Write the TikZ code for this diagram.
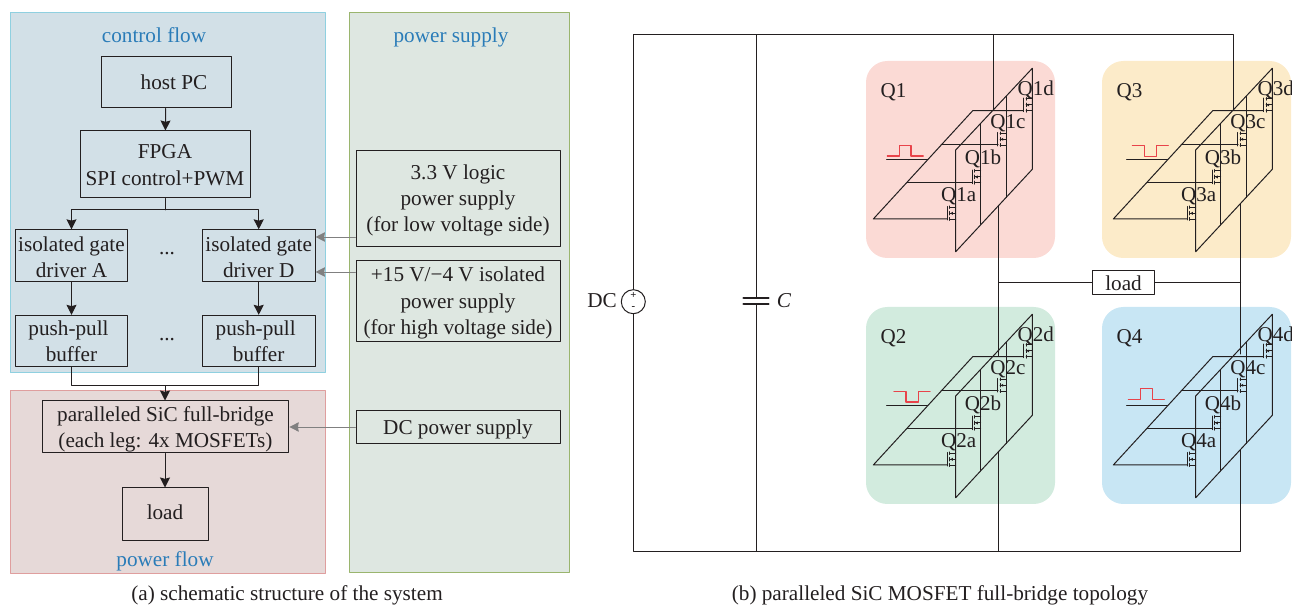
\documentclass[tikz,border=0pt]{standalone}
\usepackage{fontspec}
\setmainfont{Liberation Serif}
\usetikzlibrary{arrows.meta,positioning}
\definecolor{ctrlfill}{HTML}{D2E0E7}
\definecolor{ctrlline}{HTML}{8FD0E0}
\definecolor{flowfill}{HTML}{E6D9D8}
\definecolor{flowline}{HTML}{DF9E9E}
\definecolor{supfill}{HTML}{DEE7E1}
\definecolor{supline}{HTML}{9AB56E}
\definecolor{qone}{HTML}{FBDAD5}
\definecolor{qthree}{HTML}{FCEBC9}
\definecolor{qtwo}{HTML}{D2EBDE}
\definecolor{qfour}{HTML}{C8E6F4}
\definecolor{titleblue}{HTML}{2A7CB8}
\definecolor{pulsered}{HTML}{E8434A}
\definecolor{wireblack}{HTML}{231F20}
\newcommand{\linedrop}[1]{\rule{0pt}{#1}}
\tikzset{
  every picture/.style={line cap=round,line join=round},
  txt/.style={inner sep=0pt,text=wireblack,font=\fontsize{15.9}{19.6}\selectfont,align=center},
  qtext/.style={txt,font=\fontsize{15.8}{18}\selectfont},
  titletxt/.style={txt,text=titleblue},
  blockbox/.style={draw=wireblack,line width=0.75pt,inner sep=0pt,align=center,text=wireblack,
    font=\fontsize{15.9}{19.6}\selectfont},
  wire/.style={draw=wireblack,line width=0.75pt},
  flow/.style={wire,-{Stealth[length=7.5pt,width=7.5pt,inset=1pt]}},
  supplyflow/.style={draw=black!50,line width=0.7pt,-{Stealth[length=7pt,width=7pt,inset=0.5pt]}},
  pulse/.style={draw=pulsered,line width=0.85pt},
  pics/sicfet/.style={code={
    \draw[wire] (0,1) -- (0,-12.5);
    \draw[wire] (2.5,-13)--(2.5,-10.5) (2.5,-7.5)--(2.5,-4) (2.5,-1.5)--(2.5,1.5);
    \draw[wire] (2.5,-11.7)--(8.4,-11.7) (2.5,0.3)--(8.4,0.3) (8.4,-5.7)--(2.5,-5.7);
    \fill[wireblack] (3,-5.7)--(5.5,-7.2)--(5.5,-4.2)--cycle;
  }}
}
\begin{document}
\begin{tikzpicture}[x=0.75pt,y=-0.75pt]
  \useasboundingbox (0,0) rectangle (1292,605);
  % panels
  \draw[draw=ctrlline,fill=ctrlfill,line width=0.75pt] (10,13) rectangle (325,373);
  \draw[draw=flowline,fill=flowfill,line width=0.75pt] (10,391) rectangle (325,573);
  \draw[draw=supline,fill=supfill,line width=0.75pt] (349,13) rectangle (569,572);
  \node[titletxt] (ctrltitle) at (154,35.5) {control flow};
  \node[titletxt] (suptitle) at (451,37) {power supply};
  \node[titletxt] (flowtitle) at (165,561.5) {power flow};
  % blocks on the left
  \node[blockbox,minimum width=97.5pt,minimum height=38.25pt] (host) at (166,82.5) {\hspace*{12pt}host PC};
  \node[blockbox,minimum width=127.5pt,minimum height=50.25pt] (fpga) at (165,164.5) {\linedrop{11.5pt}FPGA\\SPI control+PWM};
  \node[blockbox,minimum width=84.5pt,minimum height=38.5pt] (drva) at (71.5,255.5) {\linedrop{14pt}isolated gate\\driver A};
  \node[blockbox,minimum width=84.5pt,minimum height=38.5pt] (drvd) at (258.7,255.5) {\linedrop{14pt}isolated gate\\driver D};
  \node[blockbox,minimum width=84.5pt,minimum height=38.5pt] (bufa) at (71.5,341) {push-pull\hspace*{4.5pt}\\buffer};
  \node[blockbox,minimum width=84.5pt,minimum height=38.5pt] (bufd) at (258.7,341) {push-pull\hspace*{4.5pt}\\buffer};
  \node[txt] (dotsa) at (167,254) {...};
  \node[txt] (dotsb) at (167,340) {...};
  \node[blockbox,minimum width=185pt,minimum height=39pt] (bridge) at (165.5,427) {\linedrop{15pt}paralleled SiC full-bridge\\(each leg: 4x MOSFETs)};
  \node[blockbox,minimum width=64.5pt,minimum height=39pt] (leftload) at (165,514) {load\rule[-3pt]{0pt}{0pt}};
  \node[blockbox,minimum width=153pt,minimum height=72.5pt] (logicsup) at (458,198.5) {\linedrop{14pt}3.3 V logic\\power supply\\(for low voltage side)};
  \node[blockbox,minimum width=153pt,minimum height=60.75pt] (isosup) at (458,301) {\linedrop{14pt}+15 V/−4 V isolated\\power supply\\(for high voltage side)};
  \node[blockbox,minimum width=153pt,minimum height=24.5pt] (dcsup) at (458,427) {\linedrop{14pt}DC power supply};
  % block connectors
  \coordinate (fanc) at (165,210);
  \coordinate (joinc) at (165,386);
  \draw[flow] (host) -- (fpga);
  \draw[wire] (fpga) -- (fanc);
  \draw[flow] (fanc) -| (drva);
  \draw[flow] (fanc) -| (drvd);
  \draw[flow] (drva) -- (bufa);
  \draw[flow] (drvd) -- (bufd);
  \draw[wire] (bufa) |- (joinc);
  \draw[wire] (bufd) |- (joinc);
  \draw[flow] (joinc) -- (bridge.north -| joinc);
  \draw[flow] (bridge.south -| leftload) -- (leftload);
  \draw[supplyflow] (logicsup.west |- 0,237) -- (drvd.east |- 0,237);
  \draw[supplyflow] (isosup.west |- 0,272) -- (drvd.east |- 0,272);
  \draw[supplyflow] (dcsup) -- (bridge);
  % bridge modules
  \foreach \n/\dx/\dy/\bx/\tone in {1/0/0/866/qone,3/240/0/1102/qthree,2/0/246/866/qtwo,4/240/246/1102/qfour}{
    \begin{scope}[shift={(\bx,\dy)}]
      \fill[fill=\tone,rounded corners=16pt] (0,61) rectangle (189,258);
      \node[qtext] (Q\n) at (27.5,92) {Q\n};
    \end{scope}
    \begin{scope}[shift={(\dx,\dy)}]
      \draw[wire] (1023.5,110.7) -- (972.7,110.7) -- (873.3,219) -- (947.3,219);
      \draw[wire] (907.3,182.7) -- (972.5,182.7);
      \draw[wire] (941,145) -- (998,145);
      \draw[wire] (886.7,160) -- (927.7,160);
      \draw[wire] (955.7,251.7) -- (955.7,150) -- (1032.3,68.3) -- (1032.3,169.3) -- cycle;
      \draw[wire] (980.7,123.5) -- (980.7,224.5);
      \draw[wire] (1006,96.7) -- (1006,197.5);
      \foreach \gx/\gy in {947.3/219,972.3/182.7,997.7/145,1023.7/110.7}{
        \pic at (\gx,\gy) {sicfet};
      }
      \node[qtext] (Q\n-a) at (958.6,196) {Q\n a};
      \node[qtext] (Q\n-b) at (983,159) {Q\n b};
      \node[qtext] (Q\n-c) at (1008,123.5) {Q\n c};
      \node[qtext] (Q\n-d) at (1035.8,89.5) {Q\n d};
    \end{scope}
  }
  \draw[pulse] (887.3,156) -- (899.3,156) -- (899.3,145.7) -- (911,145.7) -- (911,156) -- (923.3,156);
  \draw[pulse] (1132.3,145.7) -- (1144.3,145.7) -- (1144.3,156.7) -- (1156.7,156.7) -- (1156.7,145.7) -- (1168.3,145.7);
  \draw[pulse] (894,391.3) -- (906,391.3) -- (906,402) -- (918.3,402) -- (918.3,391.3) -- (930,391.3);
  \draw[pulse] (1128.3,399.3) -- (1140.7,399.3) -- (1140.7,388.3) -- (1152.3,388.3) -- (1152.3,399.3) -- (1164.3,399.3);
  % rails
  \node[circle,draw=wireblack,line width=0.75pt,minimum size=18pt,inner sep=0pt] (dc) at (633.3,301.7) {};
  \node[txt,font=\bfseries\fontsize{8}{8}\selectfont] (dcplus) at (633.3,295) {+};
  \node[txt,font=\bfseries\fontsize{8}{8}\selectfont] (dcminus) at (633.3,308) {-};
  \node[txt,anchor=east] (dclabel) at (617,301) {DC};
  \node[txt] (clabel) at (784,301) {\textit{C}};
  \coordinate (tl) at (633.3,35);
  \coordinate (bl) at (633.3,551);
  \coordinate (capt) at (756,35);
  \coordinate (capb) at (756,551);
  \coordinate (capa) at (756,298.3);
  \coordinate (capc) at (756,304.3);
  \coordinate (q1in) at (993.3,110);
  \coordinate (q3in) at (1233.3,110);
  \coordinate (q1out) at (998.5,206);
  \coordinate (q3out) at (1240.5,204);
  \coordinate (q2in) at (998.5,356);
  \coordinate (q4in) at (1240.5,354);
  \coordinate (q2out) at (998.5,452);
  \coordinate (q4out) at (1240.5,450);
  \draw[wire] (dc) |- (q3in |- tl) -- (q3in);
  \draw[wire] (q1in |- tl) -- (q1in);
  \draw[wire] (dc) |- (q4out |- bl) -- (q4out);
  \draw[wire] (q2out) -- (q2out |- bl);
  \draw[wire] (capt) -- (capa);
  \draw[wire] (capc) -- (capb);
  \draw[wire,line width=1.6pt] (743.5,298.3) -- (768.5,298.3) (743.5,304.3) -- (768.5,304.3);
  \draw[wire] (q1out) -- (q2in);
  \draw[wire] (q3out) -- (q4in);
  \node[blockbox,fill=white,minimum width=46pt,minimum height=18pt] (load) at (1123.5,283) {load};
  \draw[wire] (load) -- (q1out |- load);
  \draw[wire] (load) -- (q3out |- load);
  % captions
  \node[txt] (capl) at (287,595.5) {(a) schematic structure of the system};
  \node[txt] (capr) at (940,595.5) {(b) paralleled SiC MOSFET full-bridge topology};
\end{tikzpicture}
\end{document}
